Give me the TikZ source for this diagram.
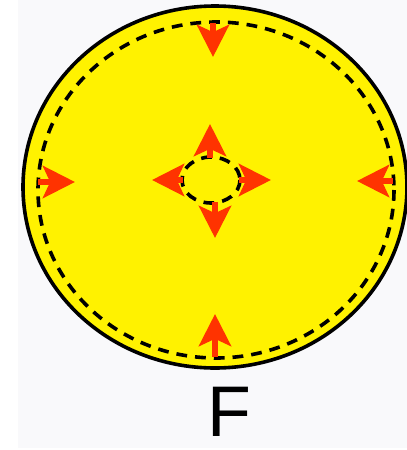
\documentclass[tikz,border=0pt]{standalone}
\usepackage{fontspec}
\setmainfont{Liberation Sans}
\usetikzlibrary{arrows.meta}
\definecolor{forcered}{RGB}{255,51,0}
\definecolor{bggray}{RGB}{249,249,251}

\begin{document}
\begin{tikzpicture}[x=0.025cm,y=-0.025cm,
    force/.style={forcered,line width=0.17cm,-{Stealth[length=0.8cm,width=0.8cm,inset=0.18cm]}},
    boundary/.style={black,line width=0.09cm,dash pattern=on 0.27cm off 0.2cm}]
      \useasboundingbox (0,0) rectangle (407,450);
      \fill[bggray] (18,0) rectangle (407,448);

      \draw[fill=yellow,line width=0.09cm] (215,187) ellipse [x radius=192,y radius=181];
      \draw[boundary] (216,190) ellipse [x radius=178,y radius=168];
      \draw[boundary] (211,180) ellipse [x radius=29,y radius=23];

      % outer arrows, pointing in
      \draw[force] (213,23) -- (213,57);
      \draw[force] (215,357) -- (215,314);
      \draw[force] (38,182) -- (75,182);
      \draw[force] (393,181) -- (357,181);

      % inner arrows, pointing out
      \draw[force] (210,158) -- (210,124);
      \draw[force] (215,202) -- (215,238);
      \draw[force] (183,180) -- (152,180);
      \draw[force] (239,180) -- (271,180);

      \node (label) at (229,412) {\fontsize{51}{51}\selectfont F};
\end{tikzpicture}
\end{document}
